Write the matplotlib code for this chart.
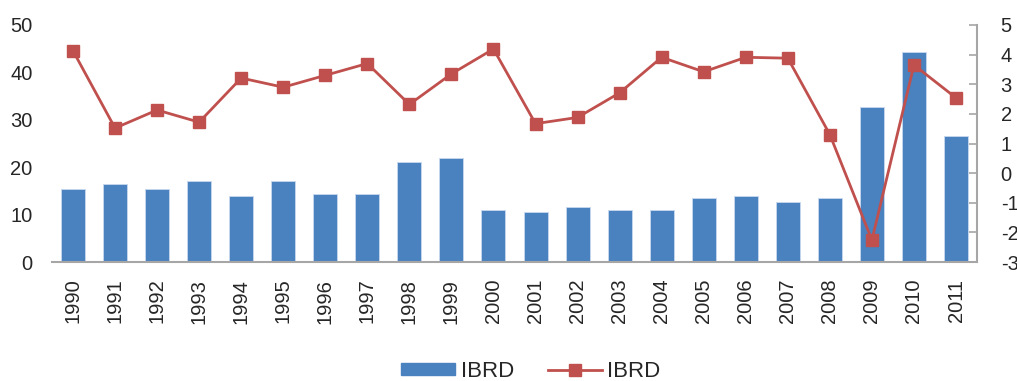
import matplotlib.pyplot as plt
from matplotlib.lines import Line2D
from matplotlib.patches import Patch

plt.rcParams["font.family"] = ["Liberation Sans", "DejaVu Sans"]
plt.rcParams["axes.unicode_minus"] = False

years = [str(y) for y in range(1990, 2012)]
bar_values = [15.3, 16.5, 15.3, 17.0, 14.0, 17.0, 14.4, 14.4, 21.1, 22.0, 11.05,
              10.6, 11.5, 11.05, 11.05, 13.6, 14.0, 12.7, 13.6, 32.8, 44.2, 26.6]
line_values = [4.13, 1.52, 2.13, 1.72, 3.21, 2.90, 3.30, 3.70, 2.32, 3.35, 4.19,
               1.67, 1.88, 2.71, 3.91, 3.42, 3.91, 3.88, 1.30, -2.26, 3.65, 2.54]

blue = "#4A81BF"
red = "#C0504D"
text_color = "#262626"
axis_gray = "#A6A6A6"

fig = plt.figure(figsize=(10.17, 3.81), dpi=100)
ax = fig.add_axes([0.0511, 0.3123, 0.9096, 0.6221])
x = list(range(len(years)))
ax.bar(x, bar_values, width=0.57, color=blue, edgecolor="#C9D9EE", linewidth=0.6, zorder=2)
ax.set_xlim(-0.5, len(years) - 0.5)
ax.set_ylim(0, 50)
ax.set_yticks(range(0, 51, 10))
ax.set_xticks(x)
ax.set_xticklabels(years, rotation=90, fontsize=14.5, color=text_color)
ax.tick_params(axis="x", length=0, pad=12)
ax.tick_params(axis="y", length=0, labelsize=14.5, labelcolor=text_color, pad=14)
for side in ["left", "right", "top"]:
    ax.spines[side].set_visible(False)
ax.spines["bottom"].set_color(axis_gray)
ax.spines["bottom"].set_linewidth(1.5)
ax.spines["bottom"].set_zorder(3)

ax2 = ax.twinx()
ax2.plot(x, line_values, color=red, linewidth=2, marker="s", markersize=8,
         markerfacecolor=red, markeredgecolor=red, zorder=4)
ax2.set_ylim(-3, 5)
ax2.set_yticks(range(-3, 6))
ax2.tick_params(axis="y", direction="in", length=6, width=1.2, color=axis_gray,
                labelsize=14.5, labelcolor=text_color, pad=17)
for side in ["left", "top", "bottom"]:
    ax2.spines[side].set_visible(False)
ax2.spines["right"].set_color(axis_gray)
ax2.spines["right"].set_linewidth(1.5)

handles = [Patch(facecolor=blue, edgecolor=blue),
           Line2D([0], [0], color=red, linewidth=2, marker="s", markersize=8)]
fig.legend(handles, ["IBRD", "IBRD"], loc="center", bbox_to_anchor=(0.522, 0.024),
           ncol=2, frameon=False, fontsize=16, handlelength=2.43, handleheight=0.45,
           handletextpad=0.25, columnspacing=1.5, labelcolor=text_color,
           borderpad=0)

fig.savefig("out.png", dpi=100)
